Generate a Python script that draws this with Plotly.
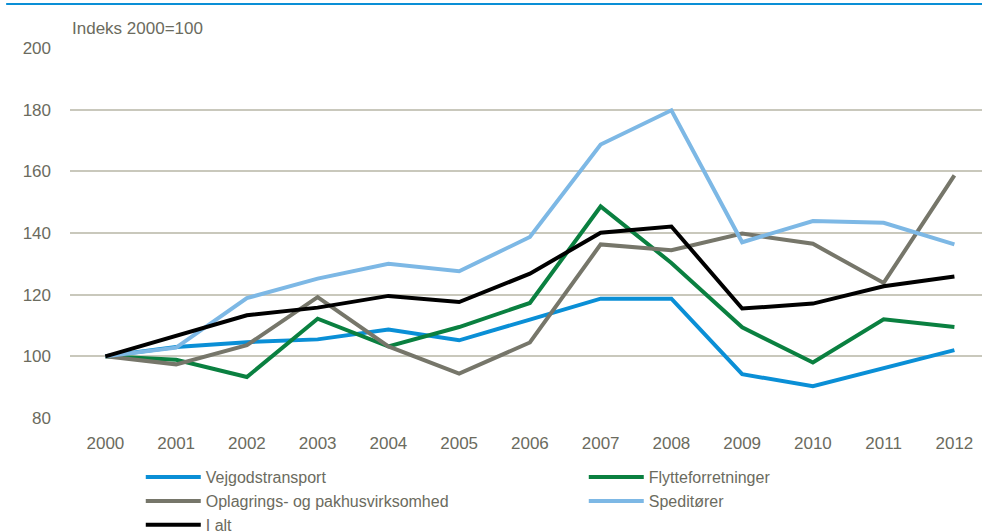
import plotly.graph_objects as go

years = ["2000", "2001", "2002", "2003", "2004", "2005", "2006",
         "2007", "2008", "2009", "2010", "2011", "2012"]

vejgods = [100, 103.0, 104.6, 105.5, 108.7, 105.2, 111.9, 118.7, 118.7, 94.2, 90.3, 96.0, 102.0]
flytte = [100, 98.9, 93.3, 112.2, 103.2, 109.5, 117.3, 148.6, 130.3, 109.4, 98.0, 112.0, 109.5]
oplag = [100, 97.4, 103.6, 119.2, 103.2, 94.4, 104.5, 136.3, 134.4, 139.8, 136.5, 123.8, 158.7]
spedit = [100, 102.8, 118.9, 125.2, 130.0, 127.6, 138.7, 168.7, 179.8, 137.0, 143.9, 143.3, 136.3]
ialt = [100, 106.5, 113.3, 115.8, 119.6, 117.6, 126.8, 140.1, 142.1, 115.5, 117.1, 122.7, 125.9]

names = ["Vejgodstransport", "Flytteforretninger", "Oplagrings- og pakhusvirksomhed",
         "Speditører", "I alt"]
series = [vejgods, flytte, oplag, spedit, ialt]
colors = ["#0A8FD6", "#0A8040", "#76766A", "#7DB8E5", "#000000"]

fig = go.Figure()
for n, s, c in zip(names, series, colors):
    fig.add_trace(go.Scatter(x=years, y=s, name=n, mode="lines",
                             line=dict(color=c, width=4)))

txt = "#6B6B5E"
fig.update_layout(
    width=982, height=531,
    margin=dict(l=70, r=0, t=48, b=113, autoexpand=False),
    paper_bgcolor="white", plot_bgcolor="white",
    font=dict(family="Liberation Sans, Arial, sans-serif", size=17, color=txt),
    showlegend=True,
    legend=dict(orientation="h", x=0.0776, y=-0.114, xanchor="left", yanchor="top",
                entrywidth=373, entrywidthmode="pixels", itemwidth=55,
                font=dict(size=16, color=txt), tracegroupgap=0,
                traceorder="normal", bgcolor="rgba(0,0,0,0)"),
    xaxis=dict(type="category", range=[-0.5, 12.39], showgrid=False, automargin=False,
               showline=False, zeroline=False, ticks="",
               ticklabelstandoff=13, tickfont=dict(size=17, color=txt)),
    yaxis=dict(range=[80, 200], dtick=20, showgrid=True, gridcolor="#C9C8BC", automargin=False,
               gridwidth=1.5, zeroline=False, showline=False, ticks="",
               ticklabelstandoff=18, tickfont=dict(size=17, color=txt)),
    shapes=[dict(type="line", xref="paper", yref="paper", x0=-0.07, x1=1.0,
                 y0=1 + 44 / 370, y1=1 + 44 / 370, line=dict(color="#0A8FD6", width=2))],
    annotations=[dict(text="Indeks 2000=100", xref="paper", yref="paper",
                      x=0.0, y=1 + 20 / 370, xanchor="left", yanchor="middle",
                      showarrow=False, font=dict(size=17, color=txt))],
)

fig.write_html("out.html", config={"displayModeBar": False},
               post_script="document.body.style.margin='0';document.body.style.overflow='hidden';")
